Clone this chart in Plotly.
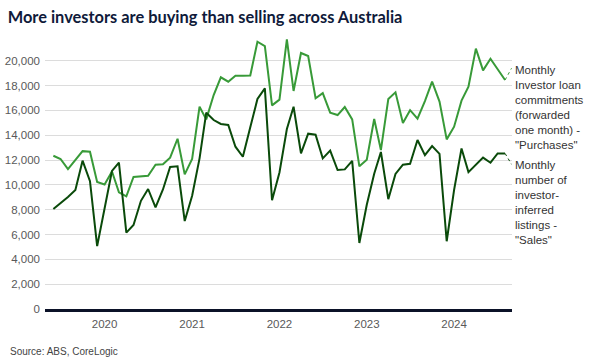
import plotly.graph_objects as go
import pandas as pd

# Monthly data, June 2019 .. August 2024 (values in number of loans/listings)
months = pd.date_range("2019-06-01", "2024-08-01", freq="MS")

purchases = [12350, 12090, 11270, 12000, 12720, 12670, 10240, 10030, 11080, 9400,
             9080, 10640, 10720, 10740, 11630, 11660, 12190, 13720, 10850, 12090,
             16300, 15280, 17240, 18670, 18320, 18800, 18800, 18820, 21540, 21190,
             16410, 16870, 21730, 17570, 20630, 20390, 16980, 17400, 15820, 15630,
             16280, 15280, 11500, 12030, 15310, 12810, 16920, 17460, 14990, 16020,
             15340, 16760, 18320, 16710, 13670, 14690, 16790, 17910, 20980, 19230,
             20170, 19340, 18450]

sales = [8060, 8530, 9030, 9590, 11950, 10300, 5070, 8100, 11130, 11800,
         6150, 6770, 8720, 9670, 8190, 9630, 11450, 11500, 7090, 9130,
         12140, 15820, 15230, 14910, 14830, 13080, 12270, 14640, 16920, 17780,
         8760, 11000, 14500, 16300, 12540, 14130, 14050, 12140, 12760, 11200,
         11250, 11930, 5320, 8400, 10900, 12650, 8850, 10880, 11630, 11700,
         13620, 12400, 13130, 12500, 5460, 9600, 12930, 11030, 11600, 12200,
         11790, 12540, 12540]

year_ticks = ["2020-01-01", "2021-01-01", "2022-01-01", "2023-01-01", "2024-01-01"]
year_labels = ["2020", "2021", "2022", "2023", "2024"]
y_ticks = list(range(0, 20001, 2000))

purch_label = "Monthly<br>Investor loan<br>commitments<br>(forwarded<br>one month) -<br>\"Purchases\""
sales_label = "Monthly<br>number of<br>investor-<br>inferred<br>listings -<br>\"Sales\""

GREEN = "#389a38"
DARK = "#0a4a0a"
BODY_FONT = "Liberation Sans, Arial, sans-serif"

fig = go.Figure()
fig.add_trace(go.Scatter(x=months, y=purchases, mode="lines",
                         line=dict(color=GREEN, width=2), hoverinfo="skip"))
fig.add_trace(go.Scatter(x=months, y=sales, mode="lines",
                         line=dict(color=DARK, width=2), hoverinfo="skip"))

# dotted leader lines from the last point toward the labels
end_x = months[-1] + pd.Timedelta(days=27)
fig.add_trace(go.Scatter(x=[months[-1], end_x], y=[purchases[-1], 19400], mode="lines",
                         line=dict(color=GREEN, width=1, dash="dot"), cliponaxis=False,
                         hoverinfo="skip"))
fig.add_trace(go.Scatter(x=[months[-1], end_x], y=[sales[-1], 11660], mode="lines",
                         line=dict(color=DARK, width=1, dash="dot"), cliponaxis=False,
                         hoverinfo="skip"))

fig.add_annotation(text=purch_label, xref="paper", yref="y", x=1.003, y=19900,
                   xanchor="left", yanchor="top", align="left", showarrow=False,
                   font=dict(family=BODY_FONT, size=11.5, color="#333333"))
fig.add_annotation(text=sales_label, xref="paper", yref="y", x=1.003, y=12250,
                   xanchor="left", yanchor="top", align="left", showarrow=False,
                   font=dict(family=BODY_FONT, size=11.5, color="#333333"))

fig.add_annotation(text="Source: ABS, CoreLogic", xref="paper", yref="paper",
                   x=-0.08, y=-0.155, xanchor="left", yanchor="middle", showarrow=False,
                   font=dict(family=BODY_FONT, size=10, color="#444444"))

fig.update_layout(
    width=591, height=363,
    margin=dict(l=45, r=79, t=36, b=54),
    paper_bgcolor="white", plot_bgcolor="white",
    showlegend=False,
    title=dict(text="<b>More investors are buying than selling across Australia</b>",
               x=0.013, xanchor="left", y=0.953, yanchor="middle",
               font=dict(family="Lato, sans-serif", size=16.4, color="#0f1a3a")),
    xaxis=dict(range=["2019-04-27", "2024-08-30"], tickvals=year_ticks, ticktext=year_labels,
               showgrid=False, showline=True, linecolor="#0b1228", linewidth=2.5,
               ticks="", tickfont=dict(family=BODY_FONT, size=11.5, color="#595959"),
               ticklabelstandoff=2, zeroline=False, automargin=False),
    yaxis=dict(range=[0, 22000], tickvals=y_ticks, tickformat=",d",
               showgrid=True, gridcolor="#dcdcdc", gridwidth=1, zeroline=False,
               ticks="", tickfont=dict(family=BODY_FONT, size=11.5, color="#595959"),
               ticklabelstandoff=4, automargin=False),
)

fig.write_html("out.html", config={"displayModeBar": False},
               post_script="document.body.style.margin='0';")
